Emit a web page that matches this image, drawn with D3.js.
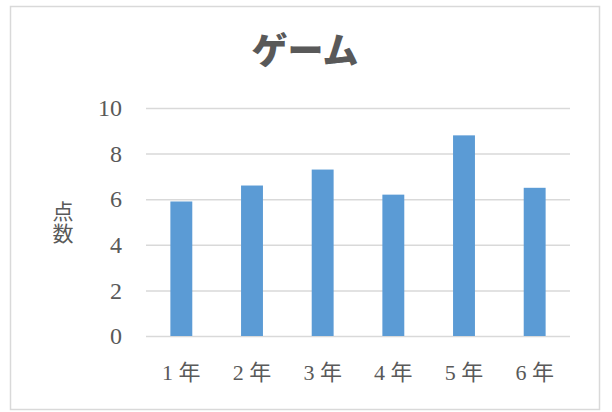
<!DOCTYPE html>
<html>
<head>
<meta charset="utf-8">
<script src="https://cdn.jsdelivr.net/npm/d3@7"></script>
<style>
  body { margin: 0; background: #fff; }
</style>
</head>
<body>
<div id="chart"></div>
<script>
// data
const grades = ["1 年", "2 年", "3 年", "4 年", "5 年", "6 年"];
const scores = [5.9, 6.6, 7.3, 6.2, 8.8, 6.5];
const yTicks = [0, 2, 4, 6, 8, 10];
const chartTitle = "ゲーム";
const yTitle = "点数";

const width = 612;
const height = 412;
const marginTop = 108;
const marginRight = 42;
const marginBottom = 76;
const marginLeft = 146;

const svg = d3.select("#chart")
  .append("svg")
    .attr("width", width)
    .attr("height", height)
    .attr("viewBox", [0, 0, width, height]);

// outer chart border
svg.append("rect")
    .attr("x", 10.5)
    .attr("y", 6.5)
    .attr("width", 589)
    .attr("height", 403)
    .attr("fill", "#fff")
    .attr("stroke", "#d9d9d9")
    .attr("stroke-width", 1.5);

const x = d3.scaleBand()
    .domain(grades)
    .range([marginLeft, width - marginRight])
    .paddingInner(0.69)
    .paddingOuter(0.345);

const y = d3.scaleLinear()
    .domain([0, 10])
    .range([height - marginBottom, marginTop]);

// y axis: gridlines + labels
svg.append("g")
    .attr("transform", `translate(${marginLeft},0)`)
    .call(d3.axisLeft(y).tickValues(yTicks).tickSize(0).tickPadding(24))
    .call(g => g.select(".domain").remove())
    .call(g => g.selectAll(".tick line").clone()
        .attr("x2", width - marginLeft - marginRight)
        .attr("stroke", "#d9d9d9")
        .attr("stroke-width", 1.5))
    .call(g => g.selectAll(".tick text")
        .attr("fill", "#595959")
        .attr("font-family", "'Liberation Serif', 'Noto Sans CJK JP', serif")
        .attr("font-size", 24));

// bars
svg.append("g")
  .selectAll("rect")
  .data(scores)
  .join("rect")
    .attr("x", (d, i) => x(grades[i]))
    .attr("y", d => y(d))
    .attr("width", x.bandwidth())
    .attr("height", d => y(0) - y(d))
    .attr("fill", "#5b9bd5");

// x axis labels
svg.append("g")
    .attr("transform", `translate(0,${height - marginBottom})`)
    .call(d3.axisBottom(x).tickSize(0).tickPadding(28))
    .call(g => g.select(".domain").remove())
    .call(g => g.selectAll(".tick text")
        .attr("fill", "#595959")
        .attr("font-family", "'Liberation Serif', 'Noto Sans CJK JP', serif")
        .attr("font-size", 22));

// title
svg.append("text")
    .attr("x", 305)
    .attr("y", 64)
    .attr("text-anchor", "middle")
    .attr("fill", "#595959")
    .attr("font-family", "'Noto Sans CJK JP', sans-serif")
    .attr("font-weight", 900)
    .attr("font-size", 36)
    .text(chartTitle);

// vertical y title
svg.append("text")
    .attr("x", 63)
    .attr("y", 223)
    .attr("text-anchor", "middle")
    .attr("writing-mode", "vertical-rl")
    .attr("letter-spacing", 1)
    .attr("fill", "#595959")
    .attr("font-family", "'Noto Sans CJK JP', sans-serif")
    .attr("font-size", 21)
    .text(yTitle);
</script>
</body>
</html>
